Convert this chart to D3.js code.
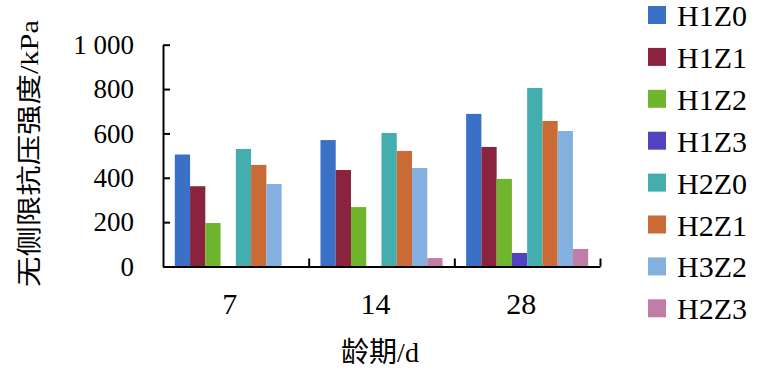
<!DOCTYPE html>
<html>
<head>
    <script src="https://cdn.jsdelivr.net/npm/d3@7"></script>
    <style>
        body {
            margin: 0;
            background-color: white;
        }
    </style>
</head>
<body>
    <div id="chart"></div>
    <script>
        const ages = ['7', '14', '28']
        const series = ['H1Z0', 'H1Z1', 'H1Z2', 'H1Z3', 'H2Z0', 'H2Z1', 'H3Z2', 'H2Z3']
        const colors = ['#3a71c6', '#8a243e', '#70b52e', '#5043c0', '#44adae', '#ca6a35', '#84b0e0', '#c07ea6']
        // one array per series, values for 7 / 14 / 28 d
        const H1Z0 = [505, 570, 688]
        const H1Z1 = [362, 435, 539]
        const H1Z2 = [196, 268, 395]
        const H1Z3 = [0, 0, 61]
        const H2Z0 = [530, 602, 805]
        const H2Z1 = [458, 521, 656]
        const H3Z2 = [372, 444, 611]
        const H2Z3 = [0, 38, 79]
        const yTicks = [0, 200, 400, 600, 800, 1000]
        const yTickLabels = ['0', '200', '400', '600', '800', '1 000']

        const values = [H1Z0, H1Z1, H1Z2, H1Z3, H2Z0, H2Z1, H3Z2, H2Z3]
        const rows = ages.map((a, i) => ({ age: a, vals: series.map((s, j) => ({ key: s, v: values[j][i] })) }))

        const w = 768
        const h = 373
        const pLeft = 163, pRight = 600, pTop = 44.7, pBottom = 266.5
        const serif = "'Liberation Serif', 'DejaVu Serif', 'Noto Sans CJK SC', serif"

        const svg = d3.select('#chart').append('svg')
            .attr('width', w)
            .attr('height', h)
            .style('font-family', serif)

        const x0 = d3.scaleBand().domain(ages).range([pLeft, pRight])
        const bw = x0.bandwidth()
        const x1 = d3.scaleBand().domain(series).range([11.8, bw - 11.8])
        const y = d3.scaleLinear().domain([0, 1000]).range([pBottom, pTop])
        const color = d3.scaleOrdinal().domain(series).range(colors)

        // bars
        svg.append('g')
            .selectAll('g')
            .data(rows)
            .join('g')
            .attr('transform', d => `translate(${x0(d.age)},0)`)
            .selectAll('rect')
            .data(d => d.vals.filter(e => e.v > 0))
            .join('rect')
            .attr('x', d => x1(d.key))
            .attr('y', d => y(d.v))
            .attr('width', x1.bandwidth())
            .attr('height', d => y(0) - y(d.v))
            .attr('fill', d => color(d.key))

        // y axis, ticks pointing inward
        const yAxis = svg.append('g')
            .attr('transform', `translate(${pLeft},0)`)
            .call(d3.axisLeft(y)
                .tickValues(yTicks)
                .tickFormat((d, i) => yTickLabels[i])
                .tickSizeInner(-7)
                .tickSizeOuter(0)
                .tickPadding(29))
        yAxis.attr('font-family', null)
        yAxis.select('.domain').attr('stroke-width', 2)
        yAxis.selectAll('line').attr('stroke-width', 2)
        yAxis.selectAll('text').attr('font-size', 27).style('font-family', serif)

        // x axis with labels
        const xAxis = svg.append('g')
            .attr('transform', `translate(0,${pBottom})`)
            .call(d3.axisBottom(x0).tickSize(0).tickPadding(26).tickSizeOuter(0))
        xAxis.attr('font-family', null)
        xAxis.select('.domain').attr('stroke-width', 2)
        xAxis.selectAll('text').attr('font-size', 30).attr('dx', -6).style('font-family', serif)

        // category boundary ticks
        const xb = d3.scaleLinear().domain([0, ages.length]).range([pLeft, pRight])
        const xTicks = svg.append('g')
            .attr('transform', `translate(0,${pBottom})`)
            .call(d3.axisBottom(xb).tickValues([1, 2, 3]).tickFormat('').tickSizeInner(-8).tickSizeOuter(0))
        xTicks.select('.domain').remove()
        xTicks.selectAll('line').attr('stroke-width', 2)

        // axis titles
        svg.append('text')
            .attr('transform', 'translate(38,153.5) rotate(-90)')
            .attr('text-anchor', 'middle')
            .attr('font-size', 25)
            .attr('textLength', 267)
            .attr('lengthAdjust', 'spacingAndGlyphs')
            .style('font-family', serif)
            .text('无侧限抗压强度/kPa')

        svg.append('text')
            .attr('x', 380)
            .attr('y', 362)
            .attr('text-anchor', 'middle')
            .attr('font-size', 28)
            .style('font-family', serif)
            .text('龄期/d')

        // legend
        const legend = svg.append('g')
            .selectAll('g')
            .data(series)
            .join('g')
            .attr('transform', (d, i) => `translate(648,${15 + i * 41.9})`)
        legend.append('rect')
            .attr('x', 0)
            .attr('y', -9)
            .attr('width', 18)
            .attr('height', 18)
            .attr('fill', d => color(d))
        legend.append('text')
            .attr('x', 29)
            .attr('y', 11)
            .attr('font-size', 30)
            .style('font-family', serif)
            .text(d => d)
    </script>
</body>
</html>
